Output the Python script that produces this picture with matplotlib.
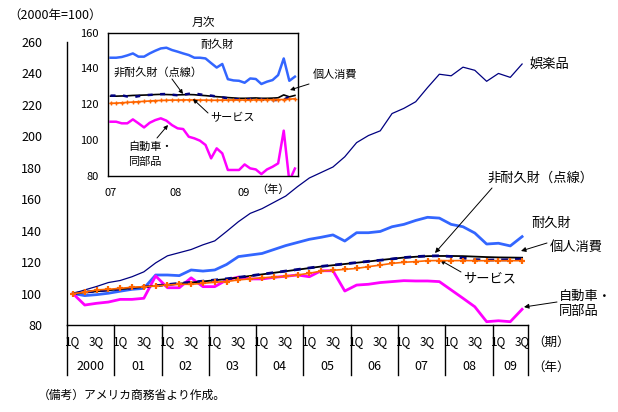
import numpy as np
import matplotlib
matplotlib.use("Agg")
import matplotlib.pyplot as plt
from matplotlib.lines import Line2D

plt.rcParams['font.family'] = ['Noto Sans CJK JP', 'DejaVu Sans']

# ---------------- data: quarterly, 2000Q1 .. 2009Q3 ----------------
years = ["2000", "01", "02", "03", "04", "05", "06", "07", "08", "09"]
quarters_per_year = [4, 4, 4, 4, 4, 4, 4, 4, 4, 3]

entertainment = [100, 102.3, 104.5, 107, 108.3, 110.7, 113.8, 119.5, 124, 126,
                 128, 131, 133.5, 139.5, 145.7, 151, 154, 158, 162, 168,
                 173.5, 177, 180.5, 187, 196, 200.5, 203.5, 214.5, 217.8, 222,
                 231, 239.5, 238.5, 244, 242, 235, 240, 237.5, 246]
durables = [100, 98.7, 99.3, 100.2, 101.5, 102.7, 103.3, 111.8, 111.8, 111.4,
            115, 114.3, 115, 118.5, 123.5, 124.5, 125.5, 128, 130.5, 132.5,
            134.5, 135.8, 137.3, 133.4, 138.7, 138.7, 139.5, 142.5, 144, 146.5,
            148.5, 148, 144, 142.5, 138.5, 131.5, 132, 130.3, 136.2]
consumption = [100, 100.7, 101.4, 102.1, 102.8, 103.5, 104.2, 104.9, 105.6, 106.3,
               107, 107.7, 108.5, 109.2, 110.2, 111.2, 112.2, 113.2, 114.2, 115.2,
               116.2, 117.2, 118, 118.8, 119.6, 120.4, 121.3, 122.1, 122.9, 123.4,
               123.8, 123.9, 123.9, 123.8, 123.5, 123.2, 123, 122.9, 122.8]
nondurables = [100, 100.9, 101.6, 102.3, 102.9, 103.6, 104.3, 105.0, 105.7, 106.5,
               107.2, 107.9, 108.6, 109.4, 110.3, 111.3, 112.3, 113.3, 114.3, 115.3,
               116.3, 117.3, 118.1, 118.9, 119.7, 120.5, 121.2, 122.0, 122.9, 123.5,
               123.9, 124.0, 123.6, 122.6, 121.6, 121.3, 121.4, 121.5, 122.0]
services = [100, 100.8, 102.3, 102.7, 103.3, 104, 104.4, 104.8, 105.4, 105.9,
            105.9, 106.5, 107.2, 107.6, 108.7, 109.3, 110.1, 110.3, 111, 111.8,
            112.9, 114.3, 114.8, 115.4, 116, 117.1, 118.1, 119.2, 119.9, 120.3,
            120.9, 121.0, 120.9, 121.0, 120.9, 120.9, 120.9, 120.9, 120.9]
autos = [100, 92.7, 93.8, 94.6, 96.3, 96.3, 97, 111.2, 103.7, 103.7,
         110, 104.4, 104.4, 108.6, 110.5, 109.3, 109.3, 110.3, 111, 111.8,
         110.7, 114.5, 114.5, 101.6, 105.4, 105.9, 107, 107.6, 108.2, 108,
         108, 107.6, 102.3, 97, 91.6, 82.1, 82.7, 82.1, 90]

# ---------------- data: monthly inset, 2007/01 .. 2009/10 ----------------
inset_year_labels = ["07", "08", "09"]
inset_year_pos = [0, 11.6, 23.8]
m_durables = [146, 146, 146.4, 147.3, 148.4, 146.6, 146.6, 148.4, 149.9, 151.2,
              151.6, 150.3, 149.4, 148.4, 147.5, 146, 146, 145.6, 143, 140.5,
              142.5, 134, 133.3, 133.1, 132, 134.4, 134.1, 131.3, 132.6, 133.5,
              136.3, 145.6, 133.1, 135.4]
m_nondurables = [124.8, 124.8, 125, 124.3, 123.9, 124.5, 125, 125.2, 125.4, 125.6,
                 125.7, 125.3, 125.0, 125.3, 125.8, 126.0, 125.5, 125.0, 124.8, 124.3,
                 123.8, 123.3, 123.0, 122.7, 122.7, 122.8, 123.2, 122.6, 122.3, 122.3,
                 122.4, 122.5, 124.2, 124.5]
m_consumption = [124.5, 124.5, 124.6, 124.7, 124.9, 125.0, 125.1, 125.2, 125.4, 125.5,
                 125.4, 125.3, 125.2, 125.3, 125.4, 125.3, 125.0, 124.8, 124.5, 124.2,
                 124.0, 123.7, 123.5, 123.3, 123.3, 123.4, 123.5, 123.3, 123.3, 123.4,
                 123.6, 125.2, 124.1, 124.9]
m_services = [120.5, 120.6, 120.8, 121.0, 121.2, 121.4, 121.6, 121.8, 122.0, 122.1,
              122.2, 122.3, 122.3, 122.4, 122.4, 122.4, 122.3, 122.3, 122.2, 122.2,
              122.3, 122.3, 122.4, 122.4, 122.3, 122.3, 122.4, 122.5, 122.5, 122.5,
              122.6, 122.6, 122.8, 123.1]
m_autos = [110.2, 110.2, 109.3, 109.3, 111.5, 109.3, 107, 109.6, 111.1, 112.1,
           110.8, 108.3, 106.5, 106.1, 101.8, 100.9, 99.6, 97.2, 89.7, 95.3,
           92.5, 83.2, 83.2, 83.2, 86.3, 84.1, 83.5, 80.9, 83.5, 85.0,
           86.9, 105.2, 77.0, 84.0]

NAVY = '#000080'
BLUE = '#3366FF'
ORANGE = '#FF6600'
MAGENTA = '#FF00FF'

W, H = 618, 412
fig = plt.figure(figsize=(W / 100, H / 100), dpi=100)


def fp(x, y):
    return (x / W, 1 - y / H)


# ---------------- main axes ----------------
ax = fig.add_axes([67 / W, 1 - 325 / H, 461 / W, 283 / H])
nq = len(entertainment)
xq = np.arange(nq) + 0.5
ax.plot(xq, entertainment, color=NAVY, lw=0.9, zorder=3)
ax.plot(xq, durables, color=BLUE, lw=2.0, zorder=3)
ax.plot(xq, autos, color=MAGENTA, lw=2.0, zorder=3)
ax.plot(xq, consumption, color='black', lw=1.3, zorder=4)
ax.plot(xq, nondurables, color=NAVY, lw=2.0, ls=(0, (2.5, 2.5)), zorder=4)
ax.plot(xq, services, color=ORANGE, lw=1.2, marker='+', ms=4.5, mew=1.6, zorder=5)

ax.set_xlim(0, nq)
ax.set_ylim(80, 260)
ax.set_yticks(np.arange(80, 261, 20))
ax.tick_params(axis='y', length=0, pad=18, labelsize=9)
ax.set_xticks([])
for s in ['top', 'right']:
    ax.spines[s].set_visible(False)
for s in ['left', 'bottom']:
    ax.spines[s].set_linewidth(1.0)

# category axis: quarter and year labels with separators
xt = ax.get_xaxis_transform()
start = 0
bounds = [0]
for yr, nqy in zip(years, quarters_per_year):
    ax.text(start + 0.5, -0.06, "1Q", transform=xt, ha='center', va='center', fontsize=8.5)
    ax.text(start + 2.5, -0.06, "3Q", transform=xt, ha='center', va='center', fontsize=8.5)
    ax.text(start + nqy / 2, -0.148, yr, transform=xt, ha='center', va='center', fontsize=9)
    start += nqy
    bounds.append(start)
for b in bounds:
    ax.add_line(Line2D([b, b], [0, -0.177], transform=xt, color='black', lw=1.0, clip_on=False))
ax.text(nq + 0.4, -0.06, "（期）", transform=xt, ha='left', va='center', fontsize=9)
ax.text(nq + 0.4, -0.148, "（年）", transform=xt, ha='left', va='center', fontsize=9)

# main annotations
arrow = dict(arrowstyle='-|>', color='black', lw=0.7, mutation_scale=7, shrinkA=0, shrinkB=0)
fig.text(*fp(530, 64), "娯楽品", ha='left', va='center', fontsize=9.5)
fig.text(*fp(540, 178), "非耐久財（点線）", ha='center', va='center', fontsize=9.5)
ax.annotate("", xy=fp(435, 253), xycoords='figure fraction',
            xytext=fp(492, 188), textcoords='figure fraction', arrowprops=arrow)
fig.text(*fp(531, 223), "耐久財", ha='left', va='center', fontsize=9.5)
fig.text(*fp(550, 247), "個人消費", ha='left', va='center', fontsize=9.5)
ax.annotate("", xy=fp(521, 251), xycoords='figure fraction',
            xytext=fp(547, 243), textcoords='figure fraction', arrowprops=arrow)
fig.text(*fp(463, 279), "サービス", ha='left', va='center', fontsize=9.5)
ax.annotate("", xy=fp(440, 260), xycoords='figure fraction',
            xytext=fp(461, 272), textcoords='figure fraction', arrowprops=arrow)
fig.text(*fp(559, 296), "自動車・", ha='left', va='center', fontsize=9.5)
fig.text(*fp(559, 312), "同部品", ha='left', va='center', fontsize=9.5)
ax.annotate("", xy=fp(524, 307), xycoords='figure fraction',
            xytext=fp(557, 302), textcoords='figure fraction', arrowprops=arrow)

fig.text(*fp(8, 15), "（2000年=100）", ha='left', va='center', fontsize=9)
fig.text(*fp(38, 395), "（備考）アメリカ商務省より作成。", ha='left', va='center', fontsize=8.5)

# ---------------- inset axes ----------------
ia = fig.add_axes([108.3 / W, 1 - 175.7 / H, 189.4 / W, 143 / H], zorder=10)
ia.set_facecolor('white')
xm = np.arange(len(m_durables))
ia.plot(xm, m_durables, color=BLUE, lw=1.8)
ia.plot(xm, m_autos, color=MAGENTA, lw=1.8)
ia.plot(xm, m_consumption, color='black', lw=1.2)
ia.plot(xm, m_nondurables, color=NAVY, lw=1.8, ls=(0, (2, 3)))
ia.plot(xm, m_services, color=ORANGE, lw=1.2, marker='+', ms=3, mew=1.0)
ia.set_xlim(-0.4, 33.5)
ia.set_ylim(80, 160)
ia.set_yticks(np.arange(80, 161, 20))
ia.set_xticks(inset_year_pos)
ia.set_xticklabels(inset_year_labels)
ia.tick_params(length=0, labelsize=8)
ia.tick_params(axis='y', pad=7)
ia.tick_params(axis='x', pad=9)
for s in ia.spines.values():
    s.set_linewidth(1.0)
ia.set_title("月次", fontsize=8.5, pad=4)
fig.text(*fp(273, 190), "（年）", ha='center', va='center', fontsize=8, zorder=11)

iarrow = dict(arrowstyle='-|>', color='black', lw=0.7, mutation_scale=6, shrinkA=0, shrinkB=0)
fig.text(*fp(217, 45), "耐久財", ha='center', va='center', fontsize=8, zorder=11)
fig.text(*fp(158, 72), "非耐久財（点線）", ha='center', va='center', fontsize=8, zorder=11)
ia.annotate("", xy=fp(183, 94), xycoords='figure fraction',
            xytext=fp(172, 79), textcoords='figure fraction', arrowprops=iarrow)
fig.text(*fp(313, 75), "個人消費", ha='left', va='center', fontsize=8, zorder=11)
ia.annotate("", xy=fp(290, 90), xycoords='figure fraction',
            xytext=fp(309, 84), textcoords='figure fraction', arrowprops=iarrow,
            annotation_clip=False)
fig.text(*fp(233, 118), "サービス", ha='center', va='center', fontsize=8, zorder=11)
ia.annotate("", xy=fp(193, 99), xycoords='figure fraction',
            xytext=fp(208, 113), textcoords='figure fraction', arrowprops=iarrow)
fig.text(*fp(128, 147), "自動車・", ha='left', va='center', fontsize=8, zorder=11)
fig.text(*fp(128, 162), "同部品", ha='left', va='center', fontsize=8, zorder=11)
ia.annotate("", xy=fp(168, 125), xycoords='figure fraction',
            xytext=fp(157, 138), textcoords='figure fraction', arrowprops=iarrow)

fig.savefig("out.png", dpi=100)
